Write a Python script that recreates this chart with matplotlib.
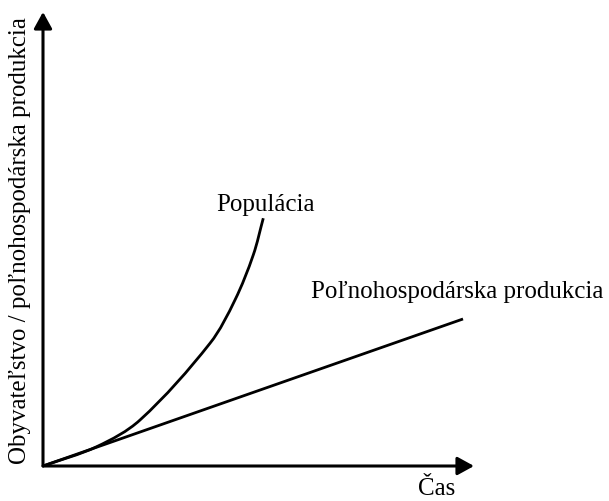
import matplotlib
matplotlib.use("Agg")
import matplotlib.pyplot as plt
from matplotlib.path import Path
from matplotlib.patches import PathPatch
import math

# Data (arbitrary units)
time_pop = [0, 12.46, 22.51, 38.75, 44.55, 48.79, 51.11]
population = [0, 4.48, 10.67, 28.47, 38.52, 48.96, 57.47]
time_agri = [0, 97.45]
agriculture = [0, 34.1]

label_pop = "Populácia"
label_agri = "Poľnohospodárska produkcia"
xlabel = "Čas"
ylabel = "Obyvateľstvo / poľnohospodárska produkcia"

plt.rcParams['font.family'] = ['Liberation Serif', 'DejaVu Serif']

W, H = 609, 501
fig = plt.figure(figsize=(W / 100, H / 100), dpi=100)
ox, oy = 43, 466
ax = fig.add_axes([ox / W, (H - oy) / H, 431 / W, 454 / H])
ax.set_xlim(0, 100)
ax.set_ylim(0, 105.3)
ax.axis('off')

lw = 2.0


def smooth_path(xs, ys):
    """Cubic Bezier path through the data points, tangents scaled by chord length."""
    pts = list(zip(xs, ys))
    n = len(pts)

    def unit(a, b):
        dx, dy = b[0] - a[0], b[1] - a[1]
        d = math.hypot(dx, dy)
        return (dx / d, dy / d)

    tang = []
    for i in range(n):
        a = pts[max(i - 1, 0)]
        b = pts[min(i + 1, n - 1)]
        tang.append(unit(a, b))

    verts = [pts[0]]
    codes = [Path.MOVETO]
    for i in range(n - 1):
        p1, p2 = pts[i], pts[i + 1]
        L = math.hypot(p2[0] - p1[0], p2[1] - p1[1]) / 3
        c1 = (p1[0] + L * tang[i][0], p1[1] + L * tang[i][1])
        c2 = (p2[0] - L * tang[i + 1][0], p2[1] - L * tang[i + 1][1])
        verts += [c1, c2, p2]
        codes += [Path.CURVE4] * 3
    return Path(verts, codes)


ax.add_patch(PathPatch(smooth_path(time_pop, population), facecolor='none',
                       edgecolor='black', lw=lw, capstyle='butt', clip_on=False))
ax.plot(time_agri, agriculture, color='black', lw=lw, solid_capstyle='butt', clip_on=False)

arrow = dict(arrowstyle='-|>,head_length=0.4,head_width=0.22', color='black',
             lw=2.2, mutation_scale=25, shrinkA=0, shrinkB=0)
ax.annotate('', xy=(100, 0), xytext=(0, 0), arrowprops=arrow, annotation_clip=False)
ax.annotate('', xy=(0, 105.3), xytext=(0, 0), arrowprops=arrow, annotation_clip=False)

fs = 18
fig.text(265 / W, 1 - 205 / H, label_pop, ha='center', va='center', fontsize=fs)
fig.text(457 / W, 1 - 292 / H, label_agri, ha='center', va='center', fontsize=fs)
fig.text(437 / W, 1 - 489 / H, xlabel, ha='center', va='center', fontsize=fs)
fig.text(20 / W, 1 - 241 / H, ylabel, ha='center', va='center', rotation=90, fontsize=fs)

fig.savefig('out.png', dpi=100)
